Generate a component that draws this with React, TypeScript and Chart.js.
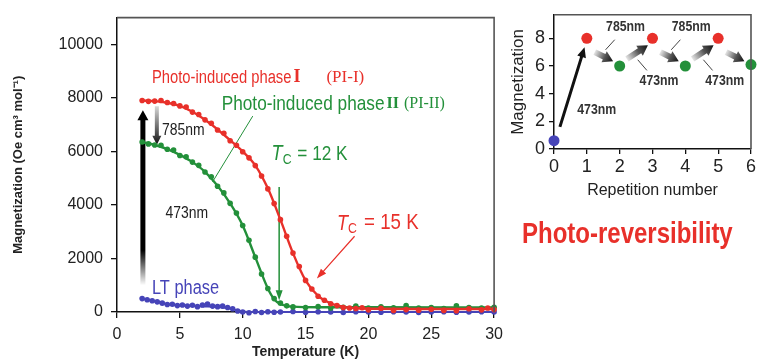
import React, { useEffect, useRef } from 'react';
import { Chart, registerables } from 'chart.js';

Chart.register(...registerables);

// ---------------- data ----------------
const temperatureTicks = [0, 5, 10, 15, 20, 25, 30];
const magnetizationTicks = [0, 2000, 4000, 6000, 8000, 10000];

// Photo-induced phase I (PI-I) measured points
const pi1Temps = [2, 2.5, 3, 3.5, 4, 4.5, 5, 5.5, 6, 6.5, 7, 7.5, 8, 8.5, 9, 9.5, 10, 10.5, 11, 11.5, 12, 12.5, 13, 13.5, 14, 14.5, 15, 15.5, 16, 16.5, 17, 17.5, 18, 18.5, 19, 19.5, 20, 21, 22, 23, 24, 25, 26, 27, 28, 29, 29.5, 30];
const pi1Values = [7900, 7870, 7880, 7900, 7830, 7790, 7700, 7660, 7470, 7380, 7180, 7050, 6800, 6680, 6400, 6230, 5990, 5760, 5470, 5080, 4600, 4050, 3450, 2830, 2200, 1700, 1180, 860, 590, 440, 310, 240, 170, 150, 130, 160, 80, 140, 60, 90, 70, 100, 60, 50, 120, 80, 150, 90];
// PI-I smooth curve
const pi1FitTemps = [2, 3, 4, 5, 6, 7, 8, 9, 10, 11, 12, 13, 14, 15, 16, 17, 18, 19, 20, 25, 30];
const pi1FitValues = [7900, 7880, 7820, 7700, 7480, 7180, 6820, 6420, 6000, 5480, 4620, 3450, 2200, 1180, 600, 320, 190, 140, 120, 110, 110];

// Photo-induced phase II (PI-II) measured points
const pi2Temps = [2, 2.5, 3, 3.5, 4, 4.5, 5, 5.5, 6, 6.5, 7, 7.5, 8, 8.5, 9, 9.5, 10, 10.5, 11, 11.5, 12, 12.5, 13, 13.5, 14, 15, 16, 17, 18, 19, 20, 21, 22, 23, 24, 25, 26, 27, 28, 29, 30];
const pi2Values = [6350, 6280, 6240, 6230, 6080, 6050, 5850, 5800, 5600, 5480, 5230, 5050, 4700, 4450, 4060, 3700, 3230, 2680, 2050, 1420, 880, 500, 330, 230, 190, 170, 200, 150, 180, 220, 150, 190, 160, 240, 150, 170, 130, 230, 170, 150, 180];
// PI-II smooth curve
const pi2FitTemps = [2, 3, 4, 5, 6, 7, 8, 9, 10, 11, 12, 12.5, 13, 14, 16, 20, 30];
const pi2FitValues = [6350, 6240, 6090, 5870, 5600, 5240, 4720, 4060, 3230, 2050, 880, 480, 300, 200, 180, 180, 170];

// LT phase measured points
const ltTemps = [2, 2.4, 2.8, 3.2, 3.6, 4, 4.4, 4.8, 5.2, 5.6, 6, 6.4, 6.8, 7.2, 7.6, 8, 8.4, 8.8, 9.2, 9.6, 10, 10.5, 11, 11.5, 12, 12.5, 13, 14, 15, 16, 17, 18, 19, 20, 21, 22, 23, 24, 25, 26, 27, 28, 29, 30];
const ltValues = [500, 460, 420, 380, 330, 280, 290, 240, 260, 220, 250, 200, 260, 300, 220, 200, 220, 170, 120, 40, 0, -30, 20, -20, 10, -10, 0, 20, -10, 10, 0, -20, 10, 0, -10, 10, 0, -20, 0, 10, -10, 0, 10, 0];
// LT smooth curve
const ltFitTemps = [2, 3, 4, 5, 6, 7, 8, 9, 10, 11, 30];
const ltFitValues = [490, 390, 290, 240, 220, 210, 190, 130, 20, 0, 0];

// inset: photo-reversibility
const repetitionNumbers = [0, 1, 2, 3, 4, 5, 6];
const repetitionMagnetization = [0.6, 8, 6, 8, 6, 8, 6.1];
const repetitionPhases = ['LT', 'PI-I', 'PI-II', 'PI-I', 'PI-II', 'PI-I', 'PI-II'];
const repetitionXTicks = [0, 1, 2, 3, 4, 5, 6];
const repetitionYTicks = [0, 2, 4, 6, 8];

// ---------------- styles ----------------
const RED = '#e8302a';
const GREEN = '#23903a';
const BLUE = '#4644b8';
const DARK = '#222';
const SERIF = "'Liberation Serif', 'DejaVu Serif', serif";
const SANS = "'Liberation Sans', Arial, sans-serif";
const NARROW_SX = 0.82;
const phaseColor: Record<string, string> = { LT: BLUE, 'PI-I': RED, 'PI-II': GREEN };

const pts = (xs: number[], ys: number[]) => xs.map((x, i) => ({ x, y: ys[i] }));

type Seg = { t: string; f: string; c?: string; dy?: number; gap?: number; sx?: number };
function rich(ctx: CanvasRenderingContext2D, segs: Seg[], x: number, y: number, color: string, align: 'left' | 'center' = 'left') {
  ctx.textBaseline = 'middle';
  ctx.textAlign = 'left';
  let total = 0;
  for (const s of segs) {
    ctx.font = s.f;
    total += (s.gap || 0) + ctx.measureText(s.t).width * (s.sx || 1);
  }
  let cx = align === 'center' ? x - total / 2 : x;
  for (const s of segs) {
    cx += s.gap || 0;
    ctx.font = s.f;
    ctx.fillStyle = s.c || color;
    const sx = s.sx || 1;
    ctx.save();
    ctx.translate(cx, y + (s.dy || 0));
    ctx.scale(sx, 1);
    ctx.fillText(s.t, 0, 0);
    ctx.restore();
    cx += ctx.measureText(s.t).width * sx;
  }
}

function arrow(
  ctx: CanvasRenderingContext2D,
  x1: number, y1: number, x2: number, y2: number,
  w: number, hl: number, hw: number,
  color: string | CanvasGradient
) {
  const dx = x2 - x1, dy = y2 - y1;
  const len = Math.hypot(dx, dy);
  const ux = dx / len, uy = dy / len;
  const px = -uy, py = ux;
  const bx = x2 - ux * hl, by = y2 - uy * hl;
  ctx.fillStyle = color;
  ctx.beginPath();
  ctx.moveTo(x1 + px * w / 2, y1 + py * w / 2);
  ctx.lineTo(bx + px * w / 2, by + py * w / 2);
  ctx.lineTo(bx + px * hw / 2, by + py * hw / 2);
  ctx.lineTo(x2, y2);
  ctx.lineTo(bx - px * hw / 2, by - py * hw / 2);
  ctx.lineTo(bx - px * w / 2, by - py * w / 2);
  ctx.lineTo(x1 - px * w / 2, y1 - py * w / 2);
  ctx.closePath();
  ctx.fill();
}

function gradArrow(ctx: CanvasRenderingContext2D, x1: number, y1: number, x2: number, y2: number, w: number, hl: number, hw: number, stops: [number, string][]) {
  const g = ctx.createLinearGradient(x1, y1, x2, y2);
  stops.forEach(([o, c]) => g.addColorStop(o, c));
  arrow(ctx, x1, y1, x2, y2, w, hl, hw, g);
}

// ---------------- main chart plugins ----------------
const mainAnnotations = {
  id: 'mainAnnotations',
  beforeDatasetsDraw(chart: any) {
    const { ctx, scales } = chart;
    const X = (v: number) => scales.x.getPixelForValue(v);
    const Y = (v: number) => scales.y.getPixelForValue(v);
    ctx.save();
    // big 473nm arrow (fading at the bottom)
    gradArrow(ctx, X(2.06), Y(1000), X(2.06), Y(7540), 5, 10, 11, [[0, 'rgba(0,0,0,0)'], [0.2, 'rgba(0,0,0,1)'], [1, '#000']]);
    // small 785nm arrow
    gradArrow(ctx, X(3.17), Y(7690), X(3.17), Y(6250), 4, 9, 9, [[0, '#d8d8d8'], [1, '#111']]);
    // green leader line
    ctx.strokeStyle = GREEN;
    ctx.lineWidth = 1;
    ctx.beginPath();
    ctx.moveTo(X(10.8), Y(7320));
    ctx.lineTo(X(7.6), Y(4860));
    ctx.stroke();
    // Tc arrows
    arrow(ctx, X(12.9), Y(4670), X(12.9), Y(440), 1.5, 10, 7, GREEN);
    arrow(ctx, X(18.9), Y(2830), X(15.9), Y(1250), 1.2, 10, 7, RED);
    ctx.restore();
  },
  afterDatasetsDraw(chart: any) {
    const { ctx, chartArea: a, scales } = chart;
    const X = (v: number) => scales.x.getPixelForValue(v);
    const Y = (v: number) => scales.y.getPixelForValue(v);
    ctx.save();
    // frame (top & right)
    ctx.strokeStyle = '#555';
    ctx.lineWidth = 1.6;
    ctx.beginPath();
    ctx.moveTo(a.left, a.top);
    ctx.lineTo(a.right, a.top);
    ctx.lineTo(a.right, a.bottom);
    ctx.stroke();

    rich(ctx, [
      { t: 'Photo-induced phase', f: `18px ${SANS}`, sx: NARROW_SX },
      { t: 'I', f: `bold 18px ${SERIF}`, gap: 2 },
      { t: '(PI-I)', f: `17px ${SERIF}`, gap: 26 },
    ], X(2.78), Y(8760), RED);
    rich(ctx, [
      { t: 'Photo-induced phase', f: `21px ${SANS}`, sx: NARROW_SX },
      { t: 'II', f: `bold 16px ${SERIF}`, gap: 2 },
      { t: '(PI-II)', f: `16px ${SERIF}`, gap: 5 },
    ], X(8.33), Y(7780), GREEN);
    rich(ctx, [
      { t: 'T', f: `italic 22px ${SANS}`, sx: NARROW_SX },
      { t: 'C', f: `15px ${SANS}`, dy: 5, sx: NARROW_SX },
      { t: ' = 12 K', f: `21px ${SANS}`, gap: 1, sx: NARROW_SX },
    ], X(12.3), Y(5890), GREEN);
    rich(ctx, [
      { t: 'T', f: `italic 22px ${SANS}`, sx: NARROW_SX },
      { t: 'C', f: `15px ${SANS}`, dy: 5, sx: NARROW_SX },
      { t: ' = 15 K', f: `22px ${SANS}`, gap: 2, sx: 0.85 },
    ], X(17.5), Y(3310), RED);
    rich(ctx, [{ t: '785nm', f: `17px ${SANS}`, sx: NARROW_SX }], X(3.57), Y(6770), DARK);
    rich(ctx, [{ t: '473nm', f: `17px ${SANS}`, sx: NARROW_SX }], X(3.85), Y(3680), DARK);
    rich(ctx, [{ t: 'LT phase', f: `20px ${SANS}`, sx: NARROW_SX }], X(2.78), Y(880), BLUE);
    ctx.restore();
  },
};

// ---------------- inset plugins ----------------
const insetAnnotations = {
  id: 'insetAnnotations',
  beforeDatasetsDraw(chart: any) {
    const { ctx, scales } = chart;
    const X = (v: number) => scales.x.getPixelForValue(v);
    const Y = (v: number) => scales.y.getPixelForValue(v);
    ctx.save();
    // first excitation arrow
    arrow(ctx, X(0.18), Y(1.6), X(0.93), Y(7.35), 3, 10, 9, '#111');
    const fade: [number, string][] = [[0, '#e6e6e6'], [0.55, '#555'], [1, '#111']];
    for (let k = 0; k < 3; k++) {
      const o = 2 * k;
      gradArrow(ctx, X(1.24 + o), Y(7.0), X(1.8 + o), Y(6.35), 6, 10, 12, fade);
      if (k < 2) gradArrow(ctx, X(2.22 + o), Y(6.5), X(2.86 + o), Y(7.5), 6, 10, 12, fade);
    }
    // leader lines
    ctx.strokeStyle = '#444';
    ctx.lineWidth = 1;
    for (let k = 0; k < 2; k++) {
      const o = 2 * k;
      ctx.beginPath();
      ctx.moveTo(X(1.85 + o), Y(7.9));
      ctx.lineTo(X(1.57 + o), Y(7.17));
      ctx.moveTo(X(2.55 + o), Y(6.45));
      ctx.lineTo(X(2.83 + o), Y(5.68));
      ctx.stroke();
    }
    ctx.restore();
  },
  afterDatasetsDraw(chart: any) {
    const { ctx, chartArea: a, scales } = chart;
    const X = (v: number) => scales.x.getPixelForValue(v);
    const Y = (v: number) => scales.y.getPixelForValue(v);
    ctx.save();
    ctx.strokeStyle = '#555';
    ctx.lineWidth = 1.6;
    ctx.beginPath();
    ctx.moveTo(a.left, a.top);
    ctx.lineTo(a.right, a.top);
    ctx.lineTo(a.right, a.bottom);
    ctx.stroke();
    const f = `bold 15px ${SANS}`;
    for (let k = 0; k < 2; k++) {
      const o = 2 * k;
      rich(ctx, [{ t: '785nm', f, sx: NARROW_SX }], X(2.18 + o), Y(8.8), '#333', 'center');
      rich(ctx, [{ t: '473nm', f, sx: NARROW_SX }], X(3.2 + o), Y(4.96), '#333', 'center');
    }
    rich(ctx, [{ t: '473nm', f, sx: NARROW_SX }], X(1.3), Y(2.8), '#333', 'center');
    ctx.restore();
  },
};

const plainTick = (v: any) => String(v);

function MainChart() {
  const ref = useRef<HTMLCanvasElement>(null);
  useEffect(() => {
    if (!ref.current) return;
    const axisGrid = { display: true, drawOnChartArea: false, drawTicks: true, tickLength: 6, color: '#111', lineWidth: 1.3 };
    const chart = new Chart(ref.current, {
      type: 'scatter',
      data: {
        datasets: [
          { data: pts(pi1Temps, pi1Values), showLine: false, pointRadius: 2.8, pointBackgroundColor: RED, pointBorderWidth: 0, clip: false } as any,
          { data: pts(pi1FitTemps, pi1FitValues), showLine: true, pointRadius: 0, borderColor: RED, borderWidth: 2.4, cubicInterpolationMode: 'monotone', clip: false },
          { data: pts(pi2Temps, pi2Values), showLine: false, pointRadius: 2.8, pointBackgroundColor: GREEN, pointBorderWidth: 0, clip: false },
          { data: pts(pi2FitTemps, pi2FitValues), showLine: true, pointRadius: 0, borderColor: GREEN, borderWidth: 2.4, cubicInterpolationMode: 'monotone', clip: false },
          { data: pts(ltTemps, ltValues), showLine: false, pointRadius: 2.8, pointBackgroundColor: BLUE, pointBorderWidth: 0, clip: false },
          { data: pts(ltFitTemps, ltFitValues), showLine: true, pointRadius: 0, borderColor: BLUE, borderWidth: 2, cubicInterpolationMode: 'monotone', clip: false },
        ],
      },
      options: {
        animation: false,
        responsive: false,
        maintainAspectRatio: false,
        events: [],
        layout: { padding: { top: 13, right: 13, left: 0, bottom: 0 } },
        plugins: { legend: { display: false }, tooltip: { enabled: false } },
        scales: {
          x: {
            type: 'linear', min: 0, max: 30,
            afterBuildTicks: (s: any) => { s.ticks = temperatureTicks.map((v) => ({ value: v })); },
            afterFit: (s: any) => { s.height = 50; },
            grid: axisGrid,
            border: { display: true, color: '#111', width: 1.5 },
            ticks: { padding: 7, color: DARK, font: { family: SANS, size: 16 }, maxRotation: 0, autoSkip: false, callback: plainTick },
            title: { display: true, text: 'Temperature (K)', color: DARK, font: { family: SANS, size: 14, weight: 'bold' }, padding: { top: 0, bottom: 1 } },
          },
          y: {
            type: 'linear', min: 0, max: 11000,
            afterBuildTicks: (s: any) => { s.ticks = magnetizationTicks.map((v) => ({ value: v })); },
            afterFit: (s: any) => { s.width = 117; },
            grid: axisGrid,
            border: { display: true, color: '#111', width: 1.5 },
            ticks: { padding: 8, color: DARK, font: { family: SANS, size: 16 }, autoSkip: false, callback: plainTick },
            title: { display: true, text: 'Magnetization (Oe cm³ mol⁻¹)', color: DARK, font: { family: SANS, size: 13, weight: 'bold' }, padding: { top: 11, bottom: 0 } },
          },
        },
      } as any,
      plugins: [mainAnnotations],
    });
    return () => chart.destroy();
  }, []);
  return <canvas ref={ref} width={510} height={362} style={{ position: 'absolute', left: 0, top: 0, width: 510, height: 362 }} />;
}

function InsetChart() {
  const ref = useRef<HTMLCanvasElement>(null);
  useEffect(() => {
    if (!ref.current) return;
    const axisGrid = { display: true, drawOnChartArea: false, drawTicks: true, tickLength: 5, color: '#111', lineWidth: 1.3 };
    const chart = new Chart(ref.current, {
      type: 'scatter',
      data: {
        datasets: [
          {
            data: pts(repetitionNumbers, repetitionMagnetization),
            showLine: false,
            pointRadius: 5.5,
            pointBorderWidth: 0,
            pointBackgroundColor: repetitionPhases.map((p) => phaseColor[p]),
            clip: false,
          } as any,
        ],
      },
      options: {
        animation: false,
        responsive: false,
        maintainAspectRatio: false,
        events: [],
        layout: { padding: { top: 14, right: 4, left: 0, bottom: 0 } },
        plugins: { legend: { display: false }, tooltip: { enabled: false } },
        scales: {
          x: {
            type: 'linear', min: 0, max: 6,
            afterBuildTicks: (s: any) => { s.ticks = repetitionXTicks.map((v) => ({ value: v })); },
            afterFit: (s: any) => { s.height = 56; },
            grid: axisGrid,
            border: { display: true, color: '#111', width: 1.5 },
            ticks: { padding: 2, color: DARK, font: { family: SANS, size: 18 }, maxRotation: 0, autoSkip: false, callback: plainTick },
            title: { display: true, text: 'Repetition number', color: DARK, font: { family: SANS, size: 16 }, padding: { top: 0, bottom: 5 } },
          },
          y: {
            type: 'linear', min: 0, max: 9.7,
            afterBuildTicks: (s: any) => { s.ticks = repetitionYTicks.map((v) => ({ value: v })); },
            afterFit: (s: any) => { s.width = 54; },
            grid: axisGrid,
            border: { display: true, color: '#111', width: 1.5 },
            ticks: { padding: 4, color: DARK, font: { family: SANS, size: 18 }, autoSkip: false, callback: plainTick },
            title: { display: true, text: 'Magnetization', color: DARK, font: { family: SANS, size: 17 }, padding: { top: 8, bottom: 0 } },
          },
        },
      } as any,
      plugins: [insetAnnotations],
    });
    return () => chart.destroy();
  }, []);
  return <canvas ref={ref} width={258} height={205} style={{ position: 'absolute', left: 500, top: 0, width: 258, height: 205 }} />;
}

export default function App() {
  return (
    <div style={{ position: 'fixed', left: 0, top: 0, width: 758, height: 362, background: '#fff', overflow: 'hidden' }}>
      <MainChart />
      <InsetChart />
      <div
        style={{
          position: 'absolute', left: 522, top: 214, height: 38, lineHeight: '38px',
          fontFamily: SANS, fontWeight: 'bold', fontSize: 30, color: RED, whiteSpace: 'nowrap',
          transform: 'scaleX(0.8)', transformOrigin: 'left center',
        }}
      >
        Photo-reversibility
      </div>
    </div>
  );
}
